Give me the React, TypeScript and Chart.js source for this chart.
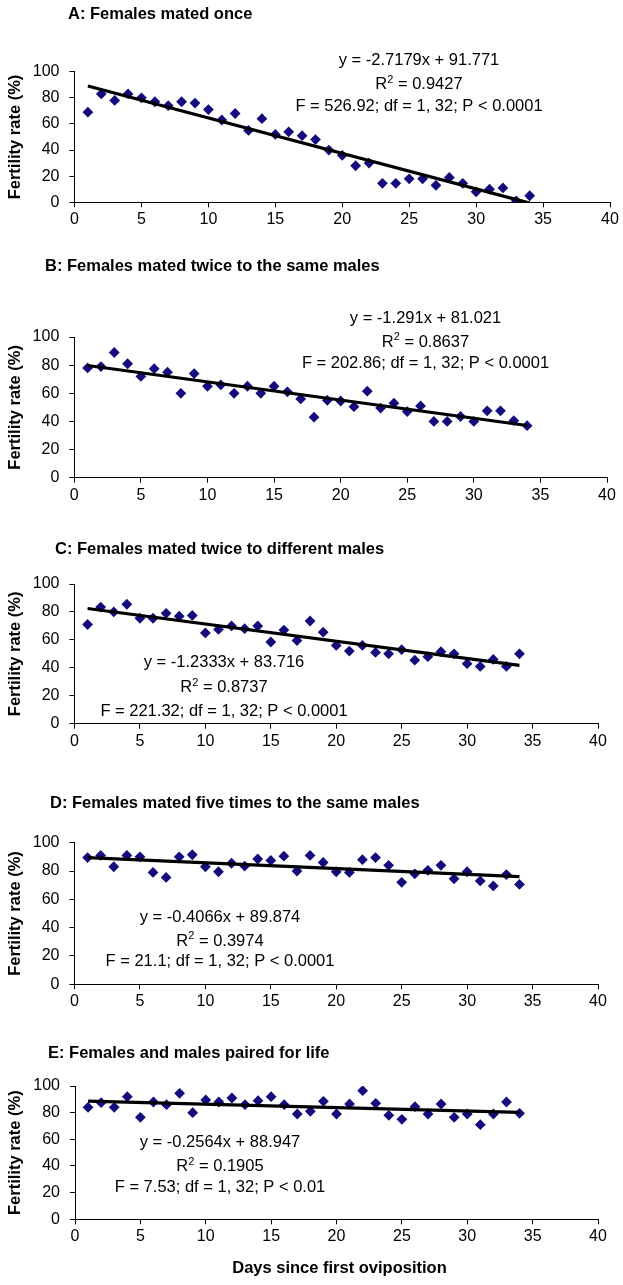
import React, { useEffect, useRef } from 'react';
import { Chart, registerables } from 'chart.js';

Chart.register(...registerables);

// ---------- data ----------
const days = [1, 2, 3, 4, 5, 6, 7, 8, 9, 10, 11, 12, 13, 14, 15, 16, 17, 18, 19, 20, 21, 22, 23, 24, 25, 26, 27, 28, 29, 30, 31, 32, 33, 34];
const xTickValues = [0, 5, 10, 15, 20, 25, 30, 35, 40];
const yTickValues = [0, 20, 40, 60, 80, 100];

const seriesA = [69, 83, 78, 83, 80, 77, 74, 77, 76, 71, 63, 68, 55, 64, 52, 54, 51, 48, 40, 36, 28, 30, 14.5, 14.5, 18, 18, 13, 19, 14.5, 8, 10, 11, 1, 5];
const seriesB = [78, 79, 89, 81, 72, 77.5, 75, 60, 74, 65, 66, 60, 65, 60, 65, 61, 56, 43, 55, 54.5, 50.5, 61.5, 49.5, 53, 47, 51, 40, 40, 43.5, 40, 47.5, 47.5, 40.5, 37];
const seriesC = [71, 83.5, 80, 85.5, 75.5, 75.5, 79, 77, 77.5, 65, 67.5, 70, 68, 70, 58.5, 67, 59.5, 73.5, 65.5, 56, 52, 56, 51, 50, 53, 45.5, 48, 51.5, 50, 43, 41, 46, 41, 50];
const seriesD = [89.5, 91, 83, 91, 90, 79, 75.5, 90, 91.5, 83, 79.5, 85.5, 83.5, 88.5, 87.5, 90.5, 80, 91, 86, 79.5, 79, 88, 89.5, 84, 72, 78, 80.5, 84, 74.5, 79.5, 73, 69.5, 77.5, 70.5];
const seriesE = [84, 87.5, 84, 92, 76.5, 88, 86, 94.5, 80, 89.5, 88, 91, 86, 89, 92, 86, 79, 81, 88.5, 79, 86.5, 96.5, 87, 78, 75, 84.5, 79, 86.5, 76.5, 79, 71, 79, 88, 79.5];

const slopes = [-2.7179, -1.291, -1.2333, -0.4066, -0.2564];
const intercepts = [91.771, 81.021, 83.716, 89.874, 88.947];

const titles = [
  'A: Females mated once',
  'B: Females mated twice to the same males',
  'C: Females mated twice to different males',
  'D: Females mated five times to the same males',
  'E: Females and males paired for life',
];
const equationLines = [
  'y = -2.7179x + 91.771',
  'y = -1.291x + 81.021',
  'y = -1.2333x + 83.716',
  'y = -0.4066x + 89.874',
  'y = -0.2564x + 88.947',
];
const r2Values = ['0.9427', '0.8637', '0.8737', '0.3974', '0.1905'];
const statLines = [
  'F = 526.92; df = 1, 32; P < 0.0001',
  'F = 202.86; df = 1, 32; P < 0.0001',
  'F = 221.32; df = 1, 32; P < 0.0001',
  'F = 21.1; df = 1, 32; P < 0.0001',
  'F = 7.53; df = 1, 32; P < 0.01',
];
const yAxisTitle = 'Fertility rate (%)';
const xAxisTitle = 'Days since first oviposition';

const allSeries = [seriesA, seriesB, seriesC, seriesD, seriesE];

// ---------- layout (page pixels) ----------
const W = 623;
const layouts = [
  { top: 0, height: 240, left: 74.5, right: 610, plotTop: 71.7, plotBottom: 202.3, titleX: 68, titleY: 18.5, eqX: 419, eqY: [65, 89, 111] },
  { top: 240, height: 280, left: 74.3, right: 607, plotTop: 337, plotBottom: 477.7, titleX: 45, titleY: 271, eqX: 425.5, eqY: [322.5, 346.5, 367.5] },
  { top: 520, height: 265, left: 74.5, right: 598, plotTop: 584, plotBottom: 723.7, titleX: 55, titleY: 554, eqX: 224, eqY: [667, 692, 716] },
  { top: 785, height: 245, left: 74.5, right: 598, plotTop: 842.7, plotBottom: 984.3, titleX: 50, titleY: 808, eqX: 220, eqY: [922, 945.5, 966] },
  { top: 1030, height: 255, left: 75, right: 598, plotTop: 1086, plotBottom: 1219.3, titleX: 48, titleY: 1058, eqX: 220, eqY: [1147, 1171, 1192] },
];

const FONT = "'Liberation Sans', Arial, Helvetica, sans-serif";
const POINT_COLOR = '#140c7c';

function Panel({ idx }: { idx: number }) {
  const ref = useRef<HTMLCanvasElement | null>(null);
  const L = layouts[idx];
  useEffect(() => {
    const canvas = ref.current;
    if (!canvas) return;
    const series = allSeries[idx];
    const m = slopes[idx];
    const b = intercepts[idx];
    const first = days[0];
    const last = days[days.length - 1];

    const textPlugin = {
      id: 'panelText' + idx,
      afterDraw(chart: any) {
        const ctx = chart.ctx;
        const off = L.top;
        ctx.save();
        ctx.fillStyle = '#000';
        // title
        ctx.font = `bold 16.5px ${FONT}`;
        ctx.textAlign = 'left';
        ctx.textBaseline = 'alphabetic';
        ctx.fillText(titles[idx], L.titleX, L.titleY - off);
        // equation block
        ctx.font = `16.5px ${FONT}`;
        ctx.textAlign = 'center';
        ctx.fillText(equationLines[idx], L.eqX, L.eqY[0] - off);
        // R^2 line
        const rest = ' = ' + r2Values[idx];
        ctx.font = `16.5px ${FONT}`;
        const wR = ctx.measureText('R').width;
        const wRest = ctx.measureText(rest).width;
        ctx.font = `11px ${FONT}`;
        const w2 = ctx.measureText('2').width;
        const total = wR + w2 + wRest;
        const x0 = L.eqX - total / 2;
        ctx.textAlign = 'left';
        ctx.font = `16.5px ${FONT}`;
        ctx.fillText('R', x0, L.eqY[1] - off);
        ctx.font = `11px ${FONT}`;
        ctx.fillText('2', x0 + wR, L.eqY[1] - off - 6.5);
        ctx.font = `16.5px ${FONT}`;
        ctx.fillText(rest, x0 + wR + w2, L.eqY[1] - off);
        ctx.textAlign = 'center';
        ctx.fillText(statLines[idx], L.eqX, L.eqY[2] - off);
        // y axis title
        ctx.save();
        ctx.font = `bold 16.5px ${FONT}`;
        ctx.translate(15, (L.plotTop + L.plotBottom) / 2 - off);
        ctx.rotate(-Math.PI / 2);
        ctx.textAlign = 'center';
        ctx.textBaseline = 'middle';
        ctx.fillText(yAxisTitle, 0, 0);
        ctx.restore();
        // x axis title on last panel
        if (idx === layouts.length - 1) {
          ctx.font = `bold 16.5px ${FONT}`;
          ctx.textAlign = 'center';
          ctx.textBaseline = 'middle';
          ctx.fillText(xAxisTitle, (L.left + L.right) / 2 + 3, 1268 - off);
        }
        ctx.restore();
      },
    };

    const chart = new Chart(canvas, {
      type: 'scatter',
      data: {
        datasets: [
          {
            label: 'trend',
            data: [
              { x: first, y: m * first + b },
              { x: last, y: m * last + b },
            ],
            showLine: true,
            borderColor: '#000',
            borderWidth: 3.2,
            pointRadius: 0,
            fill: false,
          },
          {
            label: 'fertility',
            data: days.map((d, i) => ({ x: d, y: series[i] })),
            pointStyle: 'rectRot',
            pointRadius: 5.4,
            backgroundColor: POINT_COLOR,
            borderWidth: 0,
            showLine: false,
          },
        ],
      },
      options: {
        responsive: false,
        animation: false,
        devicePixelRatio: 1,
        layout: {
          padding: { left: 0, right: W - L.right, top: L.plotTop - L.top, bottom: 0 },
        },
        plugins: {
          legend: { display: false },
          tooltip: { enabled: false },
          title: { display: false },
        },
        scales: {
          x: {
            type: 'linear',
            min: 0,
            max: 40,
            afterBuildTicks: (axis: any) => {
              axis.ticks = xTickValues.map((v) => ({ value: v }));
            },
            afterFit: (axis: any) => {
              axis.height = L.top + L.height - L.plotBottom;
            },
            ticks: {
              color: '#000',
              font: { family: FONT, size: 16 },
              padding: 3,
              maxRotation: 0,
              autoSkip: false,
            },
            grid: {
              display: true,
              drawOnChartArea: false,
              drawTicks: true,
              tickLength: 5,
              color: '#000',
              tickColor: '#000',
            },
            border: { display: true, color: '#000', width: 1 },
          },
          y: {
            type: 'linear',
            min: 0,
            max: 100,
            afterBuildTicks: (axis: any) => {
              axis.ticks = yTickValues.map((v) => ({ value: v }));
            },
            afterFit: (axis: any) => {
              axis.width = L.left;
            },
            ticks: {
              color: '#000',
              font: { family: FONT, size: 16 },
              padding: 10,
            },
            grid: {
              display: true,
              drawOnChartArea: false,
              drawTicks: true,
              tickLength: 5,
              color: '#000',
              tickColor: '#000',
            },
            border: { display: true, color: '#000', width: 1 },
          },
        },
      },
      plugins: [textPlugin],
    } as any);
    return () => chart.destroy();
  }, [idx]);

  return (
    <canvas
      ref={ref}
      width={W}
      height={L.height}
      style={{ position: 'absolute', left: 0, top: L.top, width: W, height: L.height, display: 'block' }}
    />
  );
}

export default function App() {
  return (
    <div style={{ position: 'absolute', left: 0, top: 0, width: W, height: 1285, background: '#fff', overflow: 'hidden' }}>
      {layouts.map((_, i) => (
        <Panel key={i} idx={i} />
      ))}
    </div>
  );
}
